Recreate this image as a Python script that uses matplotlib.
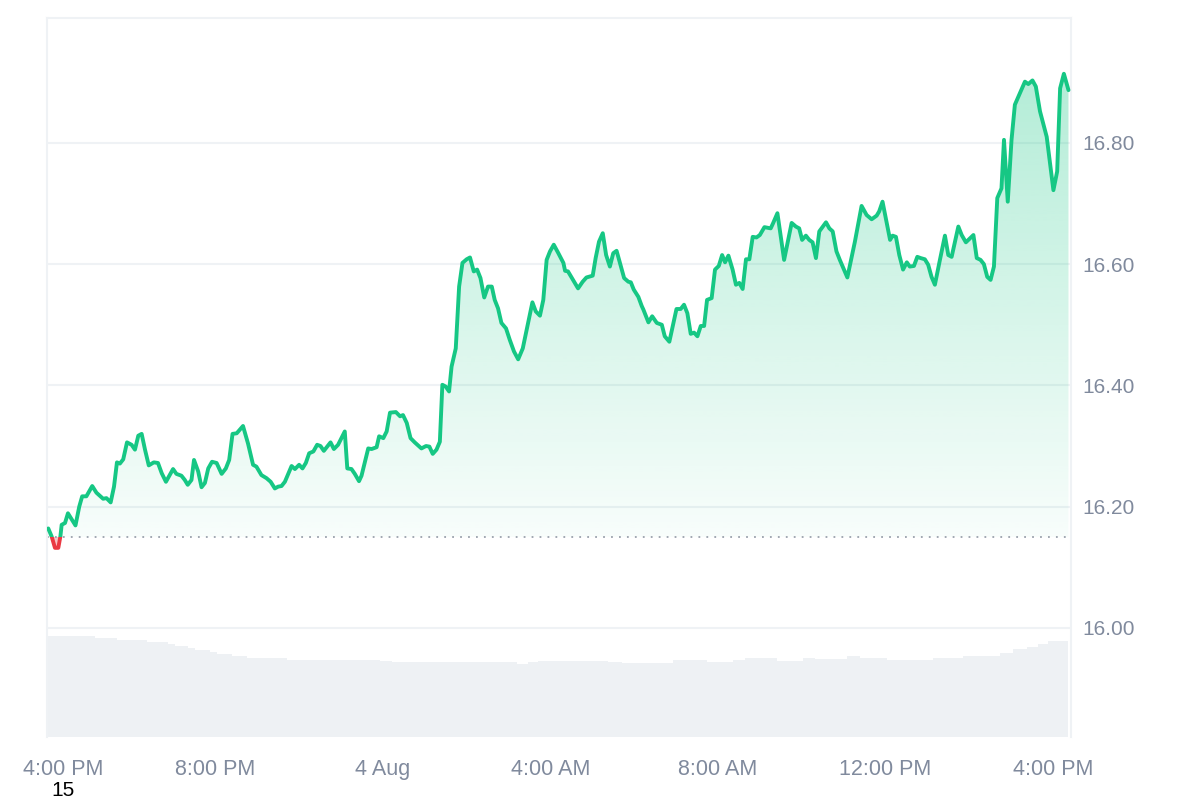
import matplotlib.pyplot as plt
from matplotlib.patches import Rectangle
from matplotlib.transforms import ScaledTranslation
import numpy as np

# hours since 4:00 PM (3 Aug) and price
hours = [0.01, 0.09, 0.17, 0.25, 0.30, 0.33, 0.41, 0.48, 0.57, 0.66,
         0.75, 0.82, 0.92, 1.06, 1.16, 1.32, 1.40, 1.50, 1.58, 1.65,
         1.72, 1.80, 1.89, 2.00, 2.08, 2.16, 2.24, 2.32, 2.41, 2.53,
         2.63, 2.72, 2.82, 2.99, 3.07, 3.19, 3.27, 3.34, 3.43, 3.49,
         3.59, 3.67, 3.75, 3.83, 3.92, 4.03, 4.15, 4.25, 4.33, 4.41,
         4.51, 4.66, 4.78, 4.90, 4.98, 5.10, 5.22, 5.32, 5.42, 5.50,
         5.58, 5.66, 5.82, 5.90, 6.00, 6.08, 6.16, 6.24, 6.34, 6.43,
         6.51, 6.59, 6.75, 6.83, 6.93, 7.09, 7.15, 7.25, 7.33, 7.43,
         7.49, 7.65, 7.73, 7.85, 7.91, 8.01, 8.09, 8.17, 8.31, 8.41,
         8.48, 8.57, 8.66, 8.76, 8.92, 9.03, 9.11, 9.19, 9.28, 9.36,
         9.42, 9.50, 9.58, 9.64, 9.74, 9.82, 9.90, 10.00, 10.08, 10.17,
         10.25, 10.33, 10.42, 10.51, 10.60, 10.67, 10.75, 10.83, 10.94, 11.03,
         11.13, 11.23, 11.34, 11.45, 11.57, 11.65, 11.75, 11.83, 11.91, 11.99,
         12.08, 12.19, 12.31, 12.35, 12.42, 12.54, 12.66, 12.77, 12.86, 13.01,
         13.08, 13.16, 13.25, 13.33, 13.42, 13.50, 13.58, 13.66, 13.76, 13.86,
         13.92, 13.99, 14.10, 14.18, 14.22, 14.34, 14.43, 14.54, 14.66, 14.73,
         14.84, 15.01, 15.11, 15.19, 15.27, 15.35, 15.43, 15.51, 15.59, 15.67,
         15.74, 15.85, 15.93, 16.02, 16.10, 16.17, 16.25, 16.35, 16.43, 16.51,
         16.59, 16.67, 16.75, 16.83, 16.92, 17.00, 17.11, 17.26, 17.32, 17.42,
         17.58, 17.76, 17.86, 17.94, 18.01, 18.10, 18.18, 18.26, 18.34, 18.42,
         18.58, 18.66, 18.74, 18.83, 18.91, 19.09, 19.27, 19.43, 19.55, 19.67,
         19.79, 19.85, 19.93, 20.03, 20.11, 20.17, 20.25, 20.33, 20.42, 20.51,
         20.58, 20.68, 20.76, 20.84, 20.94, 21.02, 21.10, 21.18, 21.30, 21.42,
         21.50, 21.58, 21.74, 21.82, 21.92, 22.10, 22.18, 22.27, 22.35, 22.43,
         22.51, 22.59, 22.67, 22.77, 22.83, 22.92, 23.01, 23.09, 23.19, 23.33,
         23.41, 23.51, 23.59, 23.69, 23.85, 24.01, 24.10, 24.17, 24.26, 24.37]
price = [16.164, 16.151, 16.132, 16.132, 16.151, 16.170, 16.173, 16.189, 16.179, 16.169,
         16.200, 16.217, 16.217, 16.234, 16.223, 16.213, 16.214, 16.207, 16.233, 16.273,
         16.271, 16.278, 16.306, 16.302, 16.294, 16.317, 16.320, 16.294, 16.268, 16.273,
         16.272, 16.255, 16.241, 16.262, 16.254, 16.251, 16.244, 16.236, 16.244, 16.277,
         16.258, 16.232, 16.239, 16.263, 16.274, 16.272, 16.254, 16.263, 16.277, 16.320,
         16.321, 16.333, 16.304, 16.269, 16.266, 16.252, 16.247, 16.241, 16.230, 16.233,
         16.234, 16.241, 16.267, 16.262, 16.269, 16.263, 16.272, 16.288, 16.291, 16.302,
         16.300, 16.292, 16.306, 16.295, 16.302, 16.324, 16.263, 16.262, 16.254, 16.242,
         16.251, 16.296, 16.295, 16.298, 16.316, 16.313, 16.324, 16.355, 16.356, 16.349,
         16.351, 16.338, 16.313, 16.306, 16.296, 16.300, 16.299, 16.287, 16.294, 16.307,
         16.401, 16.398, 16.390, 16.431, 16.461, 16.563, 16.602, 16.608, 16.611, 16.588,
         16.591, 16.577, 16.545, 16.563, 16.563, 16.541, 16.527, 16.503, 16.494, 16.475,
         16.456, 16.443, 16.461, 16.497, 16.537, 16.522, 16.515, 16.541, 16.607, 16.621,
         16.632, 16.618, 16.602, 16.589, 16.588, 16.574, 16.560, 16.571, 16.578, 16.581,
         16.610, 16.637, 16.651, 16.615, 16.596, 16.618, 16.622, 16.602, 16.577, 16.571,
         16.570, 16.558, 16.546, 16.531, 16.525, 16.504, 16.514, 16.503, 16.500, 16.481,
         16.472, 16.526, 16.526, 16.533, 16.519, 16.485, 16.487, 16.481, 16.498, 16.498,
         16.541, 16.544, 16.591, 16.597, 16.615, 16.603, 16.614, 16.591, 16.566, 16.569,
         16.559, 16.608, 16.608, 16.645, 16.644, 16.648, 16.661, 16.659, 16.668, 16.684,
         16.607, 16.668, 16.662, 16.659, 16.640, 16.647, 16.640, 16.636, 16.610, 16.654,
         16.669, 16.659, 16.654, 16.621, 16.607, 16.578, 16.637, 16.696, 16.681, 16.674,
         16.680, 16.687, 16.703, 16.668, 16.640, 16.647, 16.645, 16.615, 16.591, 16.603,
         16.596, 16.597, 16.612, 16.610, 16.608, 16.599, 16.579, 16.566, 16.607, 16.647,
         16.615, 16.612, 16.662, 16.648, 16.636, 16.648, 16.610, 16.607, 16.600, 16.579,
         16.574, 16.596, 16.709, 16.725, 16.805, 16.703, 16.805, 16.863, 16.879, 16.901,
         16.897, 16.903, 16.893, 16.852, 16.810, 16.722, 16.753, 16.890, 16.914, 16.887]

# volume (arbitrary units), step changes
vol_hours = [-0.02, 1.12, 1.65, 2.36, 2.87, 3.03, 3.34, 3.51, 3.87, 4.04,
             4.39, 4.75, 5.71, 7.93, 8.21, 11.20, 11.46, 11.70, 13.37, 13.71,
             14.93, 15.74, 16.36, 16.64, 17.41, 18.03, 18.32, 19.08, 19.39, 20.04,
             21.13, 21.85, 22.73, 23.04, 23.38, 23.64, 23.88, 24.17, 24.36]
volume = [101, 98.7, 97, 95, 93, 91, 88.7, 87, 85, 83,
          81, 79, 77, 76.3, 74.7, 72.7, 74.7, 76.3, 74.7, 73.7,
          77, 74.7, 77, 78.7, 76.3, 78.7, 78, 81, 78.7, 77,
          78.7, 81, 84.3, 87.7, 90.3, 93, 96.3, 96.3, 96.3]

base = 16.15
tick_hours = [0, 4, 8, 12, 16, 20, 24]
tick_labels = ['4:00 PM', '8:00 PM', '4 Aug', '4:00 AM', '8:00 AM', '12:00 PM', '4:00 PM']
y_ticks = [16.0, 16.2, 16.4, 16.6, 16.8]

green = '#16c784'
red = '#ea3943'
grey_txt = '#808a9d'
grid_c = '#eff2f5'

plt.rcParams['font.family'] = ['Liberation Sans', 'DejaVu Sans']

xmin, xmax = -0.02, 24.43
ymin, ymax = 15.82, 17.006

fig = plt.figure(figsize=(12, 8), dpi=100)
pos = [47/1200, 63/800, 1024/1200, 719/800]

# volume axes underneath
axv = fig.add_axes(pos, zorder=0)
axv.fill_between(vol_hours, volume, step='post', color='#eef1f4', linewidth=0)
axv.set_xlim(xmin, xmax)
axv.set_ylim(0, 719)
axv.axis('off')

ax = fig.add_axes(pos, zorder=1)
ax.set_facecolor('none')
ax.set_xlim(xmin, xmax)
ax.set_ylim(ymin, ymax)

for v in y_ticks:
    ax.axhline(v, color=grid_c, linewidth=1.5, zorder=0)

# gradient fill above baseline
fb = ax.fill_between(hours, price, base, facecolor='none', edgecolor='none')
n = 256
alpha = np.linspace(0.03, 0.36, n)
img = np.zeros((n, 1, 4))
img[:, 0, 0] = 0x16 / 255
img[:, 0, 1] = 0xc7 / 255
img[:, 0, 2] = 0x84 / 255
img[:, 0, 3] = alpha
im = ax.imshow(img, extent=[xmin, xmax, base, ymax], origin='lower',
               aspect='auto', zorder=1, interpolation='bilinear')
im.set_clip_path(fb.get_paths()[0], ax.transData)
ax.set_xlim(xmin, xmax)
ax.set_ylim(ymin, ymax)

# red fill below baseline
rf = ax.fill_between(hours, price, base, where=[p < base + 0.02 for p in price],
                     color=red, alpha=0.3, linewidth=0, zorder=1)
clip_lo = Rectangle((xmin, ymin), xmax - xmin, base - ymin, transform=ax.transData)
rf.set_clip_path(clip_lo)

ax.axhline(base, color='#9aa1ac', linewidth=1.3, linestyle=(0, (1, 3.4)), zorder=2)

clip_hi = Rectangle((xmin, base), xmax - xmin, ymax - base, transform=ax.transData)
ln_g, = ax.plot(hours, price, color=green, linewidth=2.8, zorder=3,
                solid_joinstyle='round', solid_capstyle='round')
ln_g.set_clip_path(clip_hi)
clip_lo2 = Rectangle((xmin, ymin), xmax - xmin, base - ymin, transform=ax.transData)
ln_r, = ax.plot(hours, price, color=red, linewidth=2.8, zorder=3,
                solid_joinstyle='round', solid_capstyle='round')
ln_r.set_clip_path(clip_lo2)

for side in ['left', 'right', 'top']:
    ax.spines[side].set_color(grid_c)
    ax.spines[side].set_linewidth(1.5)
ax.spines['bottom'].set_visible(False)

ax.yaxis.tick_right()
ax.set_yticks(y_ticks)
ax.set_yticklabels(['%.2f' % v for v in y_ticks])
ax.tick_params(axis='y', length=0, pad=8, labelsize=15, labelcolor=grey_txt)

ax.set_xticks(tick_hours)
ax.set_xticklabels(tick_labels)
ax.tick_params(axis='x', length=0, pad=16, labelsize=15.5, labelcolor=grey_txt)
first = ax.get_xticklabels()[0]
first.set_transform(first.get_transform() + ScaledTranslation(15/100, 0, fig.dpi_scale_trans))

fig.text(63/1200, 1 - 790/800, '15', ha='center', va='center', fontsize=15, color='black')

fig.savefig('out.png', dpi=100, facecolor='white')
